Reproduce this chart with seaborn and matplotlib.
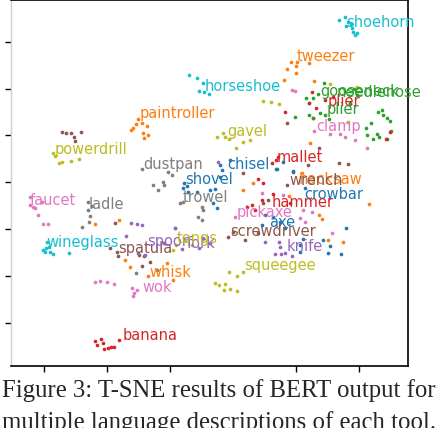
import matplotlib.pyplot as plt
import seaborn as sns

# t-SNE points of each tool: (x values, y values)
shoehorn = ([53.7, 55.6, 55.9, 56.5, 57.8, 58.1, 58.7, 59.4, 57.5],
            [89.3, 90.5, 86.7, 88.4, 85.8, 84.1, 82.9, 83.7, 87.6])
tweezer = ([37.1, 38.4, 40.3, 40.0, 40.0, 44.1, 45.7, 36.2],
           [68.3, 71.3, 71.3, 69.6, 66.6, 70.9, 63.2, 63.6])
horseshoe = ([6.0, 8.6, 10.5, 9.2, 10.8, 12.4],
             [65.8, 64.5, 62.4, 58.9, 58.5, 57.7])
gooseneck = ([48.9, 47.0, 45.4, 43.2, 44.1, 57.2, 58.4, 59.4],
             [62.4, 57.7, 56.0, 56.0, 53.8, 53.8, 59.8, 57.2])
needlenose = ([63.8, 66.0, 67.3, 67.6, 68.9, 69.9, 62.2, 62.5, 64.5, 65.7, 66.4, 68.9, 70.2],
              [45.3, 50.0, 50.8, 48.7, 47.4, 46.1, 43.1, 40.1, 38.4, 40.6, 39.3, 38.4, 41.9])
plier = ([45.1, 44.1, 46.4, 36.5, 45.4, 51.8, 49.2, 68.6, 69.9],
         [58.5, 53.8, 51.7, 50.0, 47.4, 56.4, 55.1, 38.4, 41.4])
plier_b = ([39.7, 44.1, 45.4, 47.6, 49.2, 50.5],
           [47.8, 48.7, 47.4, 49.5, 48.7, 47.0])
clamp = ([38.7, 39.7, 45.7, 50.8, 54.0, 55.6, 62.5, 58.7],
         [59.4, 58.9, 41.9, 40.6, 40.6, 39.3, 34.6, 38.0])
gavel = ([14.9, 16.8, 17.5, 18.7, 21.0, 23.2, 25.4, 29.5, 32.1, 34.6, 50.8, 59.4, 56.5],
         [39.3, 41.0, 39.3, 38.4, 34.6, 37.2, 38.0, 54.7, 54.2, 53.4, 61.9, 60.6, 45.7])
paintroller = ([-12.4, -11.7, -10.8, -10.2, -8.9, -7.3, -8.6, -7.0, -8.3],
               [42.3, 43.1, 44.8, 47.0, 45.3, 44.0, 41.0, 40.1, 38.9])
powerdrill = ([-37.1, -36.5, -35.2, -34.3, -31.4, -28.9],
              [32.5, 31.2, 28.2, 28.6, 29.0, 29.9])
dustpan = ([-8.9, -5.4, -3.8, -2.2, -1.9, -0.6, 0.6],
           [25.6, 18.8, 16.7, 20.1, 18.8, 24.3, 23.1])
trowel = ([3.2, 4.1, 10.2, 10.5, 8.9, 10.2, 1.6],
          [11.1, 11.5, 9.4, 8.1, 5.1, 3.8, 0.4])
shovel = ([4.4, 5.4, 4.1, 5.7, 8.6, 12.7, 14.3, 13.7, 14.9],
          [19.6, 18.4, 17.5, 15.8, 15.8, 16.7, 17.1, 11.1, 9.0])
chisel = ([15.9, 16.5, 15.9, 19.1, 33.7, 35.9],
          [27.3, 25.2, 22.2, 29.5, 25.6, 28.6])
mallet = ([32.4, 33.7, 34.3, 29.5, 27.9],
          [28.2, 29.5, 30.8, 19.6, 21.4])
hacksaw = ([44.5, 41.9, 37.8, 26.4, 23.2, 47.3, 48.3, 63.2, 54.9, 50.2],
           [36.7, 23.9, 14.1, 19.6, 16.7, 6.0, 4.3, 10.7, -5.6, -4.7])
wrench = ([47.3, 43.8, 53.7, 56.5, 39.1, 37.1, 29.5, 31.1, 37.1],
          [34.6, 27.3, 28.2, 27.8, 24.3, 18.8, 11.1, 12.4, 45.3])
crowbar = ([34.0, 39.1, 42.9, 55.9, 48.6, 42.2, 41.3, 50.8, 50.2, 54.3, 41.3],
           [25.6, 24.8, 17.5, 0.4, -4.7, -4.3, -6.8, -7.3, -10.3, -10.7, -9.8])
axe = ([30.2, 32.7, 34.9, 29.2, 36.5],
       [6.0, 5.1, 3.0, 1.7, 0.4])
hammer = ([32.7, 26.0, 27.0, 24.4, 29.2, 38.1],
          [14.9, 10.3, 8.1, 9.4, 12.4, 11.1])
pickaxe = ([20.6, 29.2, 35.9, 42.2, 45.1, 41.3, 42.9, 51.4],
           [5.1, 15.4, 14.5, 8.1, 7.3, 4.7, 3.0, -1.7])
screwdriver = ([18.4, 20.0, 23.8, 27.9, 23.2, -34.3, -33.0, -31.4, -30.5, -28.3, -30.2],
               [-3.4, -1.3, -4.7, -1.7, 23.9, 41.4, 41.0, 41.0, 39.3, 41.4, 37.6])
knife = ([30.2, 34.6, 34.9, 36.5, 38.7, 33.3, 35.2],
         [-5.6, -5.6, -7.7, -10.3, -11.5, -10.7, -10.7])
faucet = ([-44.5, -44.5, -43.5, -42.9, -41.9, -40.3, -38.7, -40.6],
          [13.7, 10.3, 9.4, 9.0, 6.0, 2.1, 2.1, 11.5])
ladle = ([-26.0, -26.0, -25.4, -25.7, -27.9, -24.8, -10.8, -4.1],
         [11.5, 8.1, 5.6, 3.0, 0.9, 9.8, -18.8, -17.5])
wineglass = ([-40.3, -39.4, -38.4, -39.7, -38.1, -37.1, -32.1, -39.1],
             [-9.0, -8.1, -7.7, -9.8, -9.8, -10.7, -10.3, -5.6])
spatula = ([-19.1, -16.8, -16.5, -9.8, -8.3, -8.9, -6.4, -17.5],
           [-8.1, -9.8, -11.5, -11.1, -11.5, -15.8, -14.1, 2.6])
spoon = ([-12.4, -10.5, -8.9, -14.0, -1.9, -10.2, -7.9, 1.6],
         [2.6, 2.1, 1.7, -3.0, -6.0, -10.3, -11.1, 0.4])
fork = ([3.8, 9.2, 10.5, 12.7, 15.2],
        [-8.5, -8.1, -3.8, -6.0, 28.6])
tongs = ([1.9, 1.0, 4.8, 7.0],
         [-6.8, -9.0, -4.7, -6.8])
whisk = ([-14.3, -12.7, -7.0, -1.0, 1.0, -16.2, -23.8],
         [-13.2, -16.2, -20.1, -14.5, -21.8, 3.8, 2.1])
wok = ([-23.8, -22.2, -20.0, -17.8, -12.1, -11.4, -11.7, -10.5],
       [-22.6, -22.2, -22.6, -23.5, -25.2, -27.3, -28.6, -26.1])
squeegee = ([14.3, 15.6, 17.5, 17.1, 19.1, 21.3, 18.7, 21.3, 23.2],
            [-23.1, -23.9, -23.5, -26.1, -25.6, -26.5, -18.4, -20.1, -18.4])
banana = ([-23.8, -23.2, -21.9, -21.3, -21.0, -19.7, -18.7, -17.8, -16.2],
          [-47.8, -49.5, -47.0, -48.7, -51.3, -50.8, -50.4, -50.4, -47.4])

tool_names = ["shoehorn", "tweezer", "horseshoe", "gooseneck", "needlenose", "plier", "plier",
              "clamp", "gavel", "paintroller", "powerdrill", "dustpan", "trowel", "shovel",
              "chisel", "mallet", "hacksaw", "wrench", "crowbar", "axe", "hammer", "pickaxe",
              "screwdriver", "knife", "faucet", "ladle", "wineglass", "spatula", "spoon",
              "fork", "tongs", "whisk", "wok", "squeegee", "banana"]
tool_points = [shoehorn, tweezer, horseshoe, gooseneck, needlenose, plier, plier_b,
               clamp, gavel, paintroller, powerdrill, dustpan, trowel, shovel,
               chisel, mallet, hacksaw, wrench, crowbar, axe, hammer, pickaxe,
               screwdriver, knife, faucet, ladle, wineglass, spatula, spoon,
               fork, tongs, whisk, wok, squeegee, banana]
tool_colors = ["#17becf", "#ff7f0e", "#17becf", "#2ca02c", "#2ca02c", "#d62728", "#2ca02c",
               "#e377c2", "#bcbd22", "#ff7f0e", "#bcbd22", "#7f7f7f", "#7f7f7f", "#1f77b4",
               "#1f77b4", "#d62728", "#ff7f0e", "#8c564b", "#1f77b4", "#1f77b4", "#d62728", "#e377c2",
               "#8c564b", "#9467bd", "#e377c2", "#7f7f7f", "#17becf", "#8c564b", "#9467bd",
               "#9467bd", "#bcbd22", "#ff7f0e", "#e377c2", "#bcbd22", "#d62728"]
# where each tool name is written
label_x = [55.9, 40.3, 11.1, 47.6, 53.0, 50.2, 49.8,
           46.4, 18.1, -9.5, -36.5, -8.6, 4.1, 4.8,
           18.1, 34.0, 41.0, 37.8, 42.5, 31.4, 32.4, 21.3,
           19.1, 37.1, -44.5, -25.7, -39.1, -16.5, -7.3,
           5.4, 2.2, -6.7, -8.9, 23.5, -15.2]
label_y = [86.3, 71.8, 58.9, 56.8, 56.4, 52.5, 49.1,
           41.9, 39.7, 47.4, 32.0, 25.6, 11.5, 19.2,
           25.6, 28.6, 19.2, 18.8, 12.8, 0.9, 9.4, 5.1,
           -3.0, -9.4, 10.3, 8.5, -7.7, -10.3, -7.3,
           -8.1, -6.0, -20.5, -26.9, -17.5, -47.4]

sns.set_style("white")
fig = plt.figure(figsize=(4.42, 4.28), dpi=100)
ax = fig.add_axes([11 / 442, 62 / 428, 397 / 442, 366 / 428])

for (px, py), col in zip(tool_points, tool_colors):
    sns.scatterplot(x=px, y=py, color=col, s=7, linewidth=0, ax=ax, legend=False)

for name, lx, ly, col in zip(tool_names, label_x, label_y, tool_colors):
    ax.text(lx, ly, name, color=col, fontsize=10.5, va="baseline", ha="left")

ax.set_xlim(-50.5, 75.6)
ax.set_ylim(-58.5, 97.8)
ax.set_xticks([-40, -20, 0, 40, 60])
ax.set_yticks([-40, -20, 0, 20, 40, 60, 80])
ax.tick_params(bottom=True, left=True, direction="out", length=4, width=1,
               color="black", labelbottom=False, labelleft=False)
ax.set_xlabel("")
ax.set_ylabel("")
for side in ["top", "right", "bottom"]:
    ax.spines[side].set_color("black")
    ax.spines[side].set_linewidth(1.2)
ax.spines["left"].set_color("#d0d0d0")
ax.spines["left"].set_linewidth(1)

# caption, cut off at the bottom as in the paper crop
fig.text(2 / 442, 31 / 428, "Figure 3: T-SNE results of BERT output for",
         family="Liberation Serif", fontsize=17.8, va="baseline")
fig.text(2 / 442, -0.5 / 428, "multiple language descriptions of each tool.",
         family="Liberation Serif", fontsize=17.8, va="baseline")

fig.savefig("out.png", dpi=100)
